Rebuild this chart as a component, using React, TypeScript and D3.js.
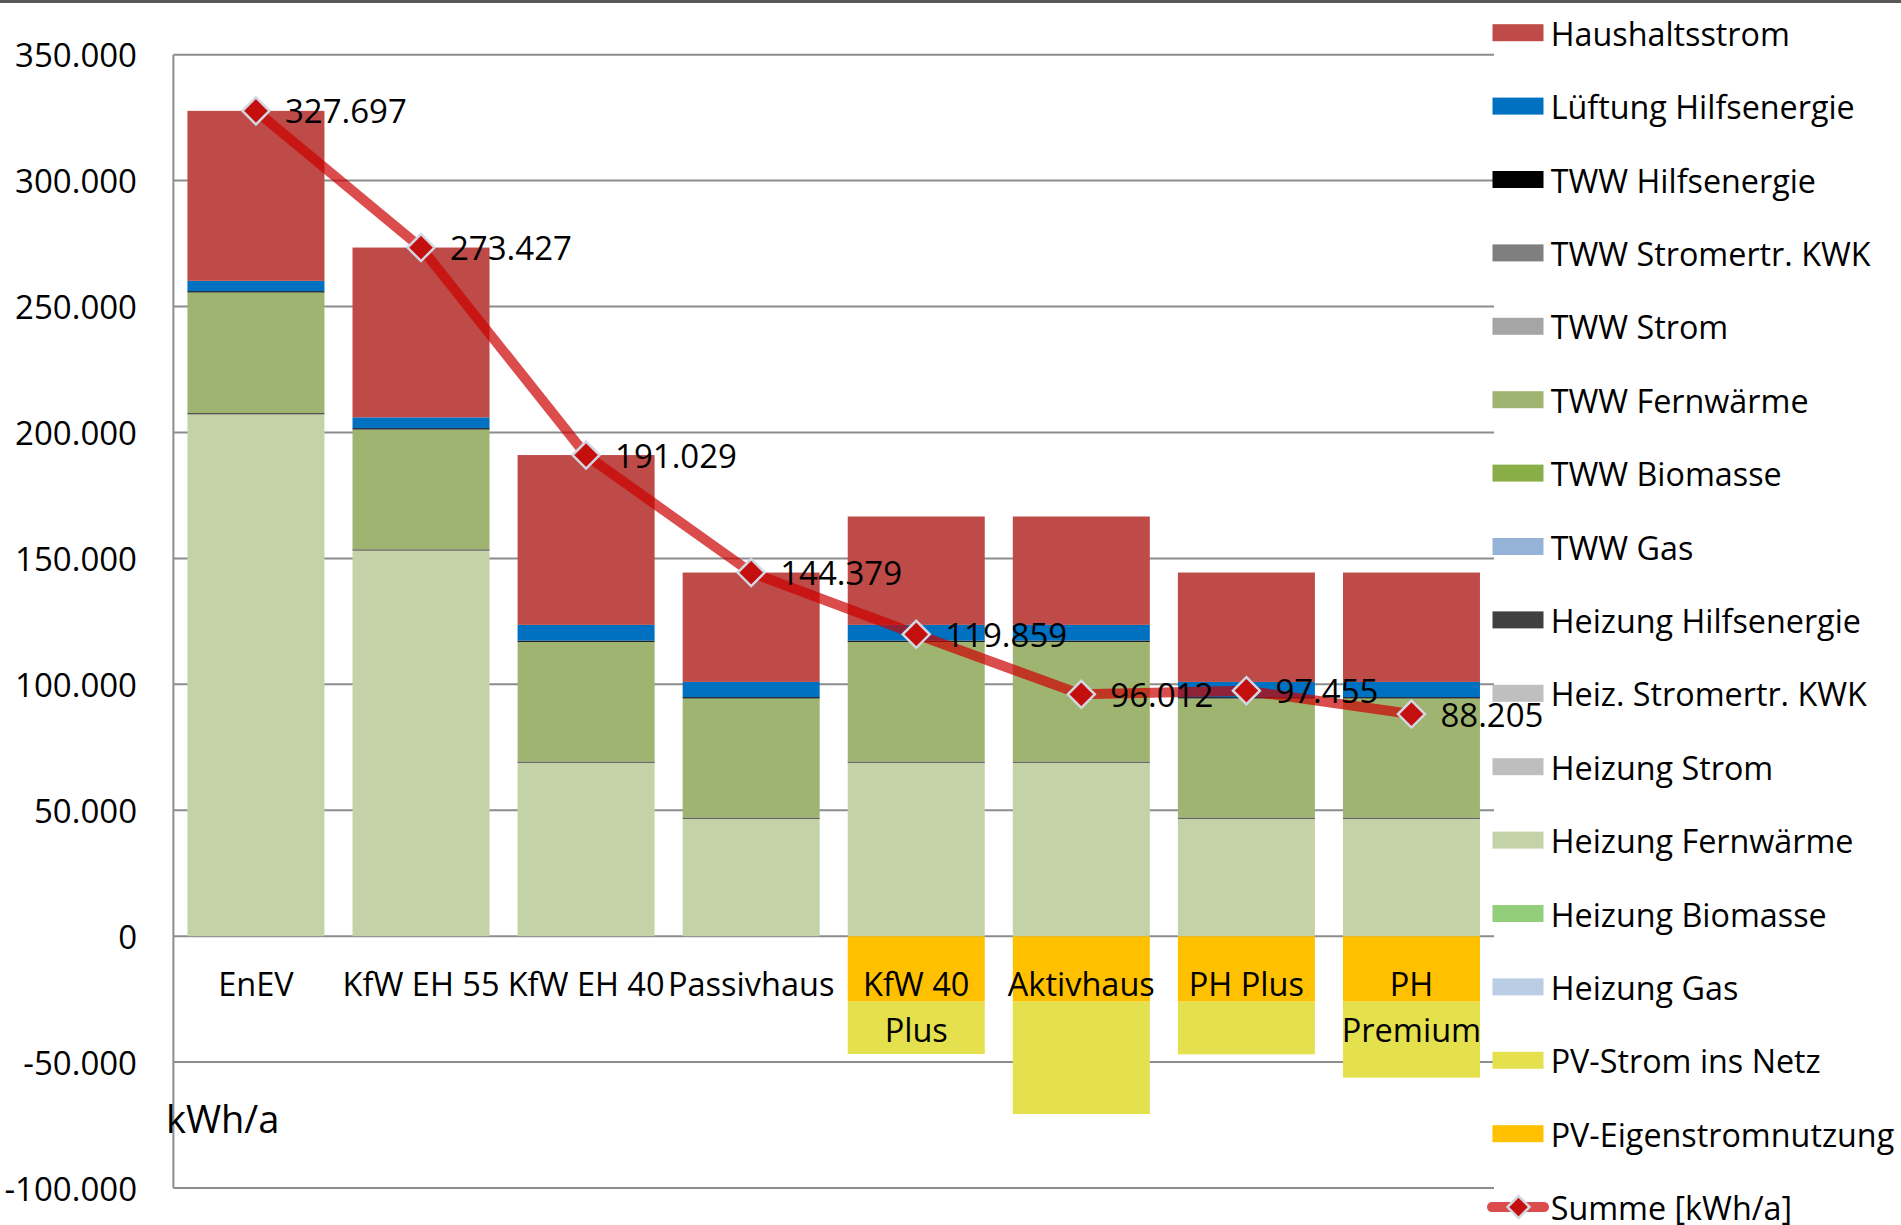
import React from 'react';
import * as d3 from 'd3';

// ---------- Data ----------
const categories = ['EnEV', 'KfW EH 55', 'KfW EH 40', 'Passivhaus', 'KfW 40 Plus', 'Aktivhaus', 'PH Plus', 'PH Premium'];
const categoryLines = [['EnEV'], ['KfW EH 55'], ['KfW EH 40'], ['Passivhaus'], ['KfW 40', 'Plus'], ['Aktivhaus'], ['PH Plus'], ['PH', 'Premium']];

const haushaltsstrom = [67497, 67427, 67429, 43429, 43030, 43030, 43429, 43429];
const lueftungHilfsenergie = [4100, 4300, 6240, 6050, 6240, 6240, 6050, 6050];
const twwHilfsenergie = [500, 500, 500, 500, 500, 500, 500, 500];
const twwStromertrKWK = [0, 0, 0, 0, 0, 0, 0, 0];
const twwStrom = [0, 0, 0, 0, 0, 0, 0, 0];
const twwFernwaerme = [47900, 47600, 47510, 47300, 47510, 47510, 47300, 47300];
const twwBiomasse = [0, 0, 0, 0, 0, 0, 0, 0];
const twwGas = [0, 0, 0, 0, 0, 0, 0, 0];
const heizungHilfsenergie = [500, 500, 500, 500, 500, 500, 500, 500];
const heizStromertrKWK = [0, 0, 0, 0, 0, 0, 0, 0];
const heizungStrom = [0, 0, 0, 0, 0, 0, 0, 0];
const heizungFernwaerme = [207200, 153100, 68850, 46600, 68850, 68850, 46600, 46600];
const heizungBiomasse = [0, 0, 0, 0, 0, 0, 0, 0];
const heizungGas = [0, 0, 0, 0, 0, 0, 0, 0];
const pvStromInsNetz = [0, 0, 0, 0, -20771, -44618, -20924, -30174];
const pvEigenstromnutzung = [0, 0, 0, 0, -26000, -26000, -26000, -26000];
const summe = [327697, 273427, 191029, 144379, 119859, 96012, 97455, 88205];

// legend order (top to bottom), stacking is the reverse
const seriesDefs = [
  { name: 'Haushaltsstrom', values: haushaltsstrom, color: '#BE4B48' },
  { name: 'Lüftung Hilfsenergie', values: lueftungHilfsenergie, color: '#0070C0' },
  { name: 'TWW Hilfsenergie', values: twwHilfsenergie, color: '#000000' },
  { name: 'TWW Stromertr. KWK', values: twwStromertrKWK, color: '#7F7F7F' },
  { name: 'TWW Strom', values: twwStrom, color: '#A5A5A5' },
  { name: 'TWW Fernwärme', values: twwFernwaerme, color: '#A0B472' },
  { name: 'TWW Biomasse', values: twwBiomasse, color: '#8AAE47' },
  { name: 'TWW Gas', values: twwGas, color: '#95B3D7' },
  { name: 'Heizung Hilfsenergie', values: heizungHilfsenergie, color: '#404040' },
  { name: 'Heiz. Stromertr. KWK', values: heizStromertrKWK, color: '#BFBFBF' },
  { name: 'Heizung Strom', values: heizungStrom, color: '#BEBEBE' },
  { name: 'Heizung Fernwärme', values: heizungFernwaerme, color: '#C4D2A7' },
  { name: 'Heizung Biomasse', values: heizungBiomasse, color: '#93CF7B' },
  { name: 'Heizung Gas', values: heizungGas, color: '#B9CDE5' },
  { name: 'PV-Strom ins Netz', values: pvStromInsNetz, color: '#E5E04D' },
  { name: 'PV-Eigenstromnutzung', values: pvEigenstromnutzung, color: '#FFC000' },
];
const summeName = 'Summe [kWh/a]';

const FONT = '"Open Sans", "Noto Sans", sans-serif';
const LINE_COLOR = 'rgba(204,0,0,0.7)';
const MARKER_FILL = '#C3100F';
const MARKER_STROKE = '#D3D7E2';

const locale = d3.formatLocale({ decimal: ',', thousands: '.', grouping: [3], currency: ['', '€'], minus: '-' });
const fmt = locale.format(',d');

const diamondPath = (r: number) => `M0,${-r} L${r},0 L0,${r} L${-r},0 Z`;

export default function App() {
  const W = 1901;
  const H = 1225;
  const plotLeft = 173.4;
  const plotRight = 1494;

  const x = d3.scaleBand<string>().domain(categories).range([plotLeft, plotRight]).paddingInner(0.17).paddingOuter(0.085);
  const y = d3.scaleLinear().domain([-100000, 350000]).range([1188, 54.7]);

  const rows = categories.map((c, i) => {
    const r: any = { category: c };
    seriesDefs.forEach((s) => (r[s.name] = s.values[i]));
    return r;
  });
  const stackKeys = seriesDefs.map((s) => s.name).reverse();
  const stacked = d3.stack<any>().keys(stackKeys).offset(d3.stackOffsetDiverging)(rows);
  const colorOf = new Map(seriesDefs.map((s) => [s.name, s.color]));

  const yTicks = y.ticks(10);
  const cx = (c: string) => (x(c) as number) + x.bandwidth() / 2;

  const lineGen = d3.line<number>().x((_, i) => cx(categories[i])).y((v) => y(v));

  const legendItems = [...seriesDefs.map((s) => s.name), summeName];
  const legendY0 = 32.7;
  const legendStep = 73.4;

  return (
    <svg width={W} height={H} style={{ position: 'fixed', left: 0, top: 0, background: '#fff' }} fontFamily={FONT}>
      <rect x={0} y={0} width={W} height={H} fill="#fff" />
      <rect x={0} y={0} width={W} height={3} fill="#595959" />

      {/* gridlines */}
      {yTicks.map((t) => (
        <line key={'g' + t} x1={plotLeft} x2={plotRight} y1={y(t)} y2={y(t)} stroke="#8C8C8C" strokeWidth={2} />
      ))}
      <line x1={plotLeft} x2={plotLeft} y1={y(350000)} y2={y(-100000)} stroke="#8C8C8C" strokeWidth={2} />

      {/* tick labels */}
      {yTicks.map((t) => (
        <text key={'t' + t} x={137} y={y(t)} textAnchor="end" dominantBaseline="central" fontSize={33} fill="#000">
          {fmt(t)}
        </text>
      ))}

      {/* bars */}
      {stacked.map((layer) => (
        <g key={layer.key} fill={colorOf.get(layer.key)}>
          {layer.map((d, i) => {
            const y0 = y(d[0]);
            const y1 = y(d[1]);
            const h = Math.abs(y0 - y1);
            if (h === 0) return null;
            return <rect key={i} x={x(categories[i])} y={Math.min(y0, y1)} width={x.bandwidth()} height={h} />;
          })}
        </g>
      ))}

      {/* category labels */}
      {categories.map((c, i) => (
        <text key={'c' + c} x={cx(c)} textAnchor="middle" fontSize={32.5} fill="#000">
          {categoryLines[i].map((ln, j) => (
            <tspan key={j} x={cx(c)} y={983 + j * 46} dominantBaseline="central">
              {ln}
            </tspan>
          ))}
        </text>
      ))}

      {/* unit label */}
      <text x={166} y={1118} dominantBaseline="central" fontSize={38} fill="#000">
        kWh/a
      </text>

      {/* sum line */}
      <path d={lineGen(summe) || ''} fill="none" stroke={LINE_COLOR} strokeWidth={10} strokeLinejoin="round" strokeLinecap="round" />
      {summe.map((v, i) => (
        <path
          key={'m' + i}
          d={diamondPath(13.5)}
          transform={`translate(${cx(categories[i])},${y(v)})`}
          fill={MARKER_FILL}
          stroke={MARKER_STROKE}
          strokeWidth={2.5}
        />
      ))}
      {summe.map((v, i) => (
        <text key={'l' + i} x={cx(categories[i]) + 29} y={y(v)} dominantBaseline="central" fontSize={33} fill="#000">
          {fmt(v)}
        </text>
      ))}

      {/* legend */}
      {legendItems.map((name, i) => {
        const cy = legendY0 + i * legendStep;
        const isSum = name === summeName;
        return (
          <g key={'lg' + name}>
            {isSum ? (
              <g>
                <line x1={1492} x2={1544} y1={cy} y2={cy} stroke={LINE_COLOR} strokeWidth={10} strokeLinecap="round" />
                <path d={diamondPath(11)} transform={`translate(${1518.5},${cy})`} fill={MARKER_FILL} stroke={MARKER_STROKE} strokeWidth={2.5} />
              </g>
            ) : (
              <rect x={1492.5} y={cy - 8.5} width={51} height={17} fill={colorOf.get(name)} />
            )}
            <text x={1550.7} y={cy} dominantBaseline="central" fontSize={32.3} fill="#000">
              {name}
            </text>
          </g>
        );
      })}
    </svg>
  );
}
